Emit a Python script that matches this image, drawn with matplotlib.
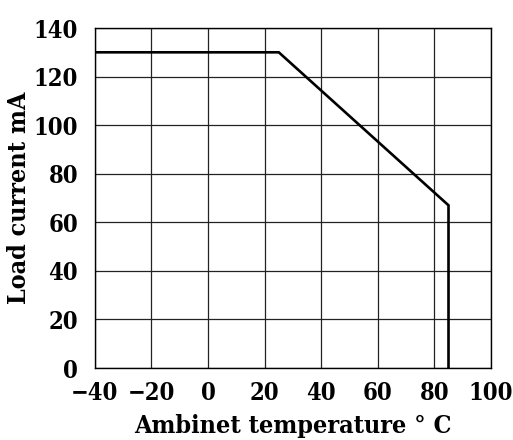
import matplotlib
matplotlib.use("Agg")
import matplotlib.pyplot as plt
from matplotlib import font_manager

# derating curve
temp = [-40, 25, 85, 85]
current = [130, 130, 67, 0]

x_ticks = [-40, -20, 0, 20, 40, 60, 80, 100]
y_ticks = [0, 20, 40, 60, 80, 100, 120, 140]

# a condensed serif is closest to the original; use it when present
condensed = [f for f in font_manager.fontManager.ttflist
             if 'Condensed' in f.fname and 'Serif' in f.fname and 'Bold' in f.fname
             and 'Oblique' not in f.fname and 'Italic' not in f.fname]
if condensed:
    font_path = condensed[0].fname
    prop = font_manager.FontProperties(fname=font_path)
    fam = prop.get_name()
    plt.rcParams['font.family'] = [fam, 'Liberation Serif']
    plt.rcParams['font.stretch'] = 'condensed'
    tick_size, label_size = 17, 18
else:
    plt.rcParams['font.family'] = ['Liberation Serif', 'DejaVu Serif']
    tick_size, label_size = 19, 20
plt.rcParams['font.weight'] = 'bold'

fig = plt.figure(figsize=(5.13, 4.40), dpi=100)
ax = fig.add_axes([0.185, 0.1636, 0.772, 0.7727])

ax.plot(temp, current, color='black', linewidth=1.9, solid_joinstyle='miter')

ax.set_xlim(-40, 100)
ax.set_ylim(0, 140)
ax.set_xticks(x_ticks)
ax.set_yticks(y_ticks)
ax.grid(True, color='#222222', linewidth=0.9)
ax.set_axisbelow(True)
ax.tick_params(axis='both', length=0, labelsize=tick_size)
ax.tick_params(axis='x', pad=9)
ax.tick_params(axis='y', pad=12)
for s in ax.spines.values():
    s.set_linewidth(1.0)
    s.set_color('black')

ax.set_xlabel('Ambinet temperature \u00b0 C', fontsize=label_size, fontweight='bold', labelpad=7)
ax.set_ylabel('Load current mA', fontsize=label_size, fontweight='bold', labelpad=2)

fig.savefig('out.png', dpi=100)
